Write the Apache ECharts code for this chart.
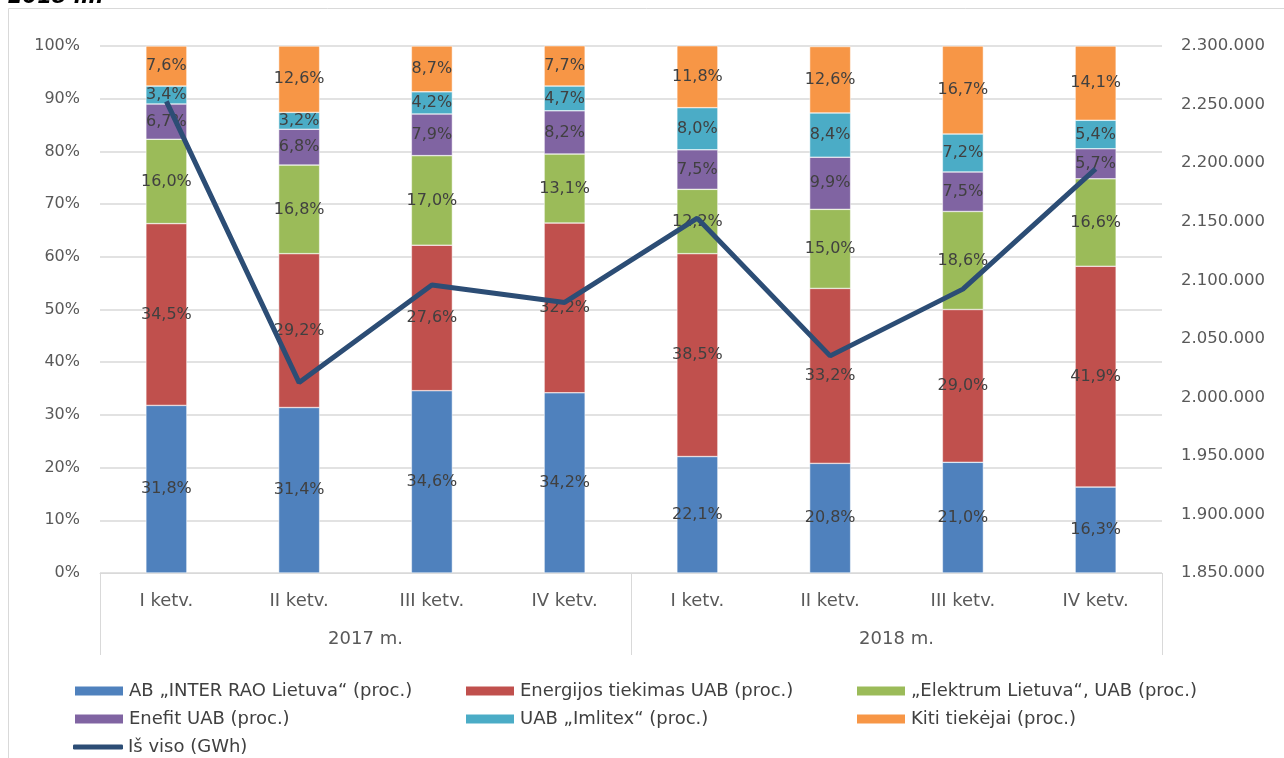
<!DOCTYPE html>
<html>
<head>
<meta charset="utf-8">
<script src="https://cdn.jsdelivr.net/npm/echarts@6/dist/echarts.min.js"></script>
<style>
html,body{margin:0;padding:0;background:#fff;}
#c{width:1284px;height:758px;}
</style>
</head>
<body>
<div id="c"></div>
<script>
var quarters = ['I ketv.','II ketv.','III ketv.','IV ketv.','I ketv.','II ketv.','III ketv.','IV ketv.'];
var years = ['2017 m.','2018 m.'];
var interRao = [31.8, 31.4, 34.6, 34.2, 22.1, 20.8, 21.0, 16.3];
var energijos = [34.5, 29.2, 27.6, 32.2, 38.5, 33.2, 29.0, 41.9];
var elektrum = [16.0, 16.8, 17.0, 13.1, 12.2, 15.0, 18.6, 16.6];
var enefit = [6.7, 6.8, 7.9, 8.2, 7.5, 9.9, 7.5, 5.7];
var imlitex = [3.4, 3.2, 4.2, 4.7, 8.0, 8.4, 7.2, 5.4];
var kiti = [7.6, 12.6, 8.7, 7.7, 11.8, 12.6, 16.7, 14.1];
var total = [2252700, 2012600, 2096000, 2081000, 2153000, 2035400, 2092400, 2195000];

var names = ['AB \u201eINTER RAO Lietuva\u201c (proc.)','Energijos tiekimas UAB (proc.)','\u201eElektrum Lietuva\u201c, UAB (proc.)','Enefit UAB (proc.)','UAB \u201eImlitex\u201c (proc.)','Kiti tiek\u0117jai (proc.)','I\u0161 viso (GWh)'];
var colors = ['#4F81BD','#C0504D','#9BBB59','#8064A2','#4BACC6','#F79646'];
var lineColor = '#2C4D75';
var FONT = 'DejaVu Sans';
var TXT = '#404040';
var AX = '#595959';

function barSeries(i, data){
  return {
    name: names[i], type:'bar', stack:'s', data:data, barWidth:41,
    itemStyle:{color:colors[i], borderColor:'#ffffff', borderWidth:0.5},
    label:{show:true, position:'inside', fontFamily:FONT, fontSize:16, color:TXT,
      formatter:function(p){return p.value.toFixed(1).replace('.',',')+'%';}},
    emphasis:{disabled:true}
  };
}
function fmtThousands(v){ return String(v).replace(/\B(?=(\d{3})+(?!\d))/g,'.'); }

var legendText = {fontFamily:FONT, fontSize:18, color:TXT};
// legend layout: [seriesIndex, left, top]
var legendPos = [[0,73,682],[1,464,682],[2,855,682],[3,73,710],[4,464,710],[5,855,710],[6,73,738]];
var legends = legendPos.map(function(p){
  var isLine = p[0] === 6;
  return {left:p[1], top:p[2], padding:0, itemWidth:50, itemHeight:isLine?5:11, itemGap:5,
    textStyle:legendText, selectedMode:false,
    data:[{name:names[p[0]], icon:isLine?'roundRect':'rect'}]};
});

var chart = echarts.init(document.getElementById('c'));
chart.setOption({
  animation:false,
  textStyle:{fontFamily:FONT},
  grid:{left:100, right:122, top:46, bottom:185},
  graphic:[
    {type:'rect', shape:{x:8.5, y:8.5, width:1300, height:800}, style:{fill:'none', stroke:'#d9d9d9', lineWidth:1}, silent:true},
    {type:'text', x:8, y:8, style:{text:'2018 m.', font:'italic bold 21px '+FONT, fill:'#000', verticalAlign:'bottom'}, silent:true}
  ],
  legend:legends,
  xAxis:[
    {type:'category', data:quarters, position:'bottom',
      axisLine:{lineStyle:{color:'#d9d9d9'}}, axisTick:{show:false},
      axisLabel:{fontFamily:FONT, fontSize:18, color:AX, margin:19}},
    {type:'category', data:years, position:'bottom',
      axisLine:{show:false},
      axisTick:{show:true, length:82, lineStyle:{color:'#d9d9d9'}},
      axisLabel:{fontFamily:FONT, fontSize:18, color:AX, margin:57}}
  ],
  yAxis:[
    {type:'value', min:0, max:100, interval:10,
      axisLabel:{formatter:'{value}%', fontFamily:FONT, fontSize:16, color:AX, margin:20},
      splitLine:{lineStyle:{color:'#d9d9d9', width:1.5}}, axisLine:{show:false}, axisTick:{show:false}},
    {type:'value', min:1850000, max:2300000, interval:50000,
      axisLabel:{formatter:fmtThousands, fontFamily:FONT, fontSize:16.5, color:AX, margin:19},
      splitLine:{show:false}, axisLine:{show:false}, axisTick:{show:false}}
  ],
  series:[
    barSeries(0, interRao),
    barSeries(1, energijos),
    barSeries(2, elektrum),
    barSeries(3, enefit),
    barSeries(4, imlitex),
    barSeries(5, kiti),
    {name:names[6], type:'line', yAxisIndex:1, data:total, symbol:'none', z:5,
      lineStyle:{color:lineColor, width:5}, itemStyle:{color:lineColor}, emphasis:{disabled:true}}
  ]
});
</script>
</body>
</html>
